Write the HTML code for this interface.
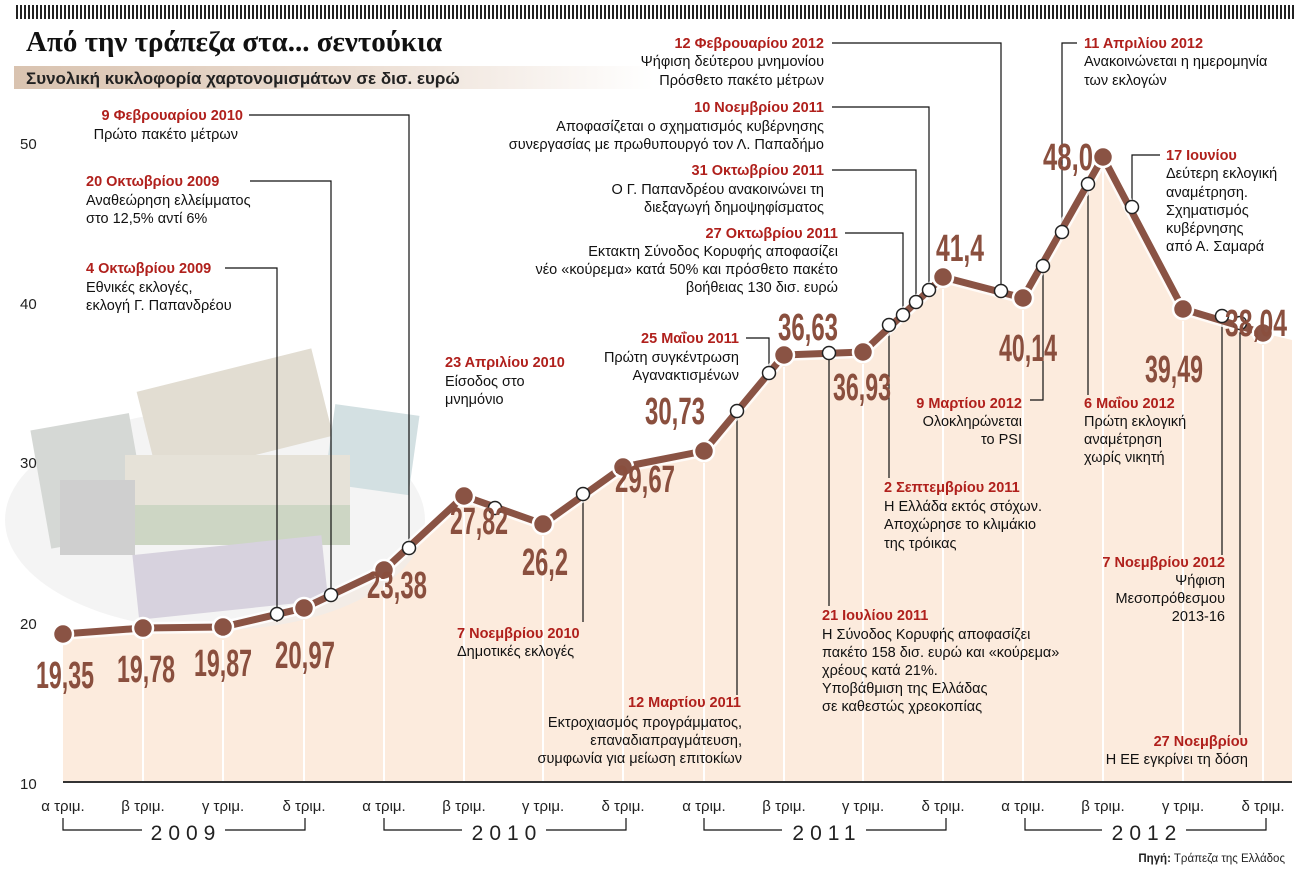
<!DOCTYPE html>
<html><head><meta charset="utf-8"><style>
html,body{margin:0;padding:0;background:#fff;}
svg{display:block;font-family:"Liberation Sans","DejaVu Sans",sans-serif;}
.r{fill:#b0201c;font-weight:bold;font-size:14.5px;}
.b{fill:#111;font-size:14.5px;}
.v{fill:#8a4f3e;font-family:"Liberation Sans",sans-serif;font-weight:bold;font-size:38px;}
.ax{fill:#222;font-size:15px;}
.ln{stroke:#111;stroke-width:1.2;fill:none;}
</style></head><body>
<svg width="1305" height="885" viewBox="0 0 1305 885">
<defs>
<pattern id="hatch" width="4" height="14" patternUnits="userSpaceOnUse"><rect x="0" y="0" width="2" height="14" fill="#222"/></pattern>
<linearGradient id="sub" x1="0" x2="1"><stop offset="0" stop-color="#d9c3b0"/><stop offset="0.5" stop-color="#eadbcf"/><stop offset="1" stop-color="#fff"/></linearGradient>
</defs>
<rect x="14" y="5" width="1280" height="14" fill="url(#hatch)"/>
<text x="26" y="51" font-family="'Liberation Serif',serif" font-weight="bold" font-size="29" fill="#111">Από την τράπεζα στα... σεντούκια</text>
<rect x="14" y="66" width="640" height="23" fill="url(#sub)"/>
<text x="26" y="84" font-size="17" font-weight="bold" fill="#222">Συνολική κυκλοφορία χαρτονομισμάτων σε δισ. ευρώ</text>

<!-- area fill -->
<polygon fill="#fcebdd" points="63,634 143,628 223,627 304,608 384,570 464,496 543,524 623,467 704,451 784,355 863,352 943,277 1023,298 1103,157 1183,309 1263,333 1292,340 1292,782 63,782"/>
<g stroke="#fff" stroke-width="2">
<line x1="143" y1="640" x2="143" y2="782"/><line x1="223" y1="640" x2="223" y2="782"/><line x1="304" y1="620" x2="304" y2="782"/><line x1="384" y1="582" x2="384" y2="782"/><line x1="464" y1="508" x2="464" y2="782"/><line x1="543" y1="536" x2="543" y2="782"/><line x1="623" y1="479" x2="623" y2="782"/><line x1="704" y1="463" x2="704" y2="782"/><line x1="784" y1="367" x2="784" y2="782"/><line x1="863" y1="364" x2="863" y2="782"/><line x1="943" y1="289" x2="943" y2="782"/><line x1="1023" y1="310" x2="1023" y2="782"/><line x1="1103" y1="169" x2="1103" y2="782"/><line x1="1183" y1="321" x2="1183" y2="782"/><line x1="1263" y1="345" x2="1263" y2="782"/>
</g>

<!-- money stack approximation -->
<g>
<ellipse cx="215" cy="520" rx="210" ry="110" fill="#ececec" opacity="0.6"/>
<rect x="40" y="420" width="100" height="120" fill="#d5d8d5" transform="rotate(-10 95 480)"/>
<rect x="145" y="370" width="180" height="90" fill="#e2ddd2" transform="rotate(-14 230 415)"/>
<rect x="330" y="410" width="85" height="80" fill="#d3e0e2" transform="rotate(8 375 445)"/>
<rect x="125" y="455" width="225" height="50" fill="#e6e2d8"/>
<rect x="125" y="505" width="225" height="40" fill="#cdd6c4"/>
<rect x="135" y="545" width="190" height="65" fill="#d7d2de" transform="rotate(-6 230 575)"/>
<rect x="60" y="480" width="75" height="75" fill="#cfcfcf"/>
</g>

<!-- axis -->
<line x1="63" y1="782" x2="1292" y2="782" stroke="#333" stroke-width="2"/>
<g class="ax">
<text x="20" y="149">50</text><text x="20" y="309">40</text><text x="20" y="468">30</text><text x="20" y="629">20</text><text x="20" y="789">10</text>
</g>
<g class="ax" text-anchor="middle" font-size="14">
<text x="63" y="811">α τριμ.</text><text x="143" y="811">β τριμ.</text><text x="223" y="811">γ τριμ.</text><text x="304" y="811">δ τριμ.</text>
<text x="384" y="811">α τριμ.</text><text x="464" y="811">β τριμ.</text><text x="543" y="811">γ τριμ.</text><text x="623" y="811">δ τριμ.</text>
<text x="704" y="811">α τριμ.</text><text x="784" y="811">β τριμ.</text><text x="863" y="811">γ τριμ.</text><text x="943" y="811">δ τριμ.</text>
<text x="1023" y="811">α τριμ.</text><text x="1103" y="811">β τριμ.</text><text x="1183" y="811">γ τριμ.</text><text x="1263" y="811">δ τριμ.</text>
</g>
<g class="ln">
<polyline points="63,818 63,830 142,830"/><polyline points="225,830 305,830 305,818"/>
<polyline points="384,818 384,830 462,830"/><polyline points="546,830 626,830 626,818"/>
<polyline points="704,818 704,830 782,830"/><polyline points="866,830 946,830 946,818"/>
<polyline points="1025,818 1025,830 1102,830"/><polyline points="1186,830 1266,830 1266,818"/>
</g>
<g font-size="21" fill="#222" text-anchor="middle" letter-spacing="6">
<text x="186" y="840">2009</text><text x="507" y="840">2010</text><text x="827" y="840">2011</text><text x="1147" y="840">2012</text>
</g>
<text x="1285" y="862" text-anchor="end" font-size="11.5" fill="#222"><tspan font-weight="bold">Πηγή:</tspan> Τράπεζα της Ελλάδος</text>

<!-- leader lines -->
<g class="ln">
<polyline points="249,115 409,115 409,548"/>
<polyline points="250,181 331,181 331,595"/>
<polyline points="225,268 277,268 277,622"/>
<line x1="583" y1="494" x2="583" y2="622"/>
<line x1="737" y1="411" x2="737" y2="695"/>
<polyline points="746,338 769,338 769,373"/>
<line x1="829" y1="353" x2="829" y2="606"/>
<line x1="889" y1="325" x2="889" y2="478"/>
<polyline points="845,233 903,233 903,315"/>
<polyline points="832,170 916,170 916,302"/>
<polyline points="832,107 929,107 929,290"/>
<polyline points="832,43 1001,43 1001,291"/>
<polyline points="1030,400 1043,400 1043,266"/>
<polyline points="1077,43 1062,43 1062,232"/>
<line x1="1088" y1="184" x2="1088" y2="395"/>
<polyline points="1132,207 1132,155 1160,155"/>
<line x1="1222" y1="316" x2="1222" y2="555"/>
<line x1="1240" y1="323" x2="1240" y2="735"/>
</g>

<!-- main line -->
<polyline fill="none" stroke="#fff" stroke-width="12" stroke-linejoin="round" points="63,634 143,628 223,627 304,608 384,570 464,496 543,524 623,467 704,451 784,355 863,352 943,277 1023,298 1103,157 1183,309 1263,333" opacity="0.8"/>
<polyline fill="none" stroke="#8a5344" stroke-width="7" stroke-linejoin="round" points="63,634 143,628 223,627 304,608 384,570 464,496 543,524 623,467 704,451 784,355 863,352 943,277 1023,298 1103,157 1183,309 1263,333"/>
<g fill="#8a5344" stroke="#fff" stroke-width="2.5">
<circle cx="63" cy="634" r="10"/><circle cx="143" cy="628" r="10"/><circle cx="223" cy="627" r="10"/><circle cx="304" cy="608" r="10"/><circle cx="384" cy="570" r="10"/><circle cx="464" cy="496" r="10"/><circle cx="543" cy="524" r="10"/><circle cx="623" cy="467" r="10"/><circle cx="704" cy="451" r="10"/><circle cx="784" cy="355" r="10"/><circle cx="863" cy="352" r="10"/><circle cx="943" cy="277" r="10"/><circle cx="1023" cy="298" r="10"/><circle cx="1103" cy="157" r="10"/><circle cx="1183" cy="309" r="10"/><circle cx="1263" cy="333" r="10"/>
</g>
<g fill="#fff" stroke="#222" stroke-width="1.5">
<circle cx="277" cy="614" r="6.5"/><circle cx="331" cy="595" r="6.5"/><circle cx="409" cy="548" r="6.5"/><circle cx="495" cy="508" r="6.5"/><circle cx="583" cy="494" r="6.5"/><circle cx="737" cy="411" r="6.5"/><circle cx="769" cy="373" r="6.5"/><circle cx="829" cy="353" r="6.5"/><circle cx="889" cy="325" r="6.5"/><circle cx="903" cy="315" r="6.5"/><circle cx="916" cy="302" r="6.5"/><circle cx="929" cy="290" r="6.5"/><circle cx="1001" cy="291" r="6.5"/><circle cx="1043" cy="266" r="6.5"/><circle cx="1062" cy="232" r="6.5"/><circle cx="1088" cy="184" r="6.5"/><circle cx="1132" cy="207" r="6.5"/><circle cx="1222" cy="316" r="6.5"/><circle cx="1240" cy="323" r="6.5"/>
</g>

<!-- value labels -->
<g class="v" text-anchor="middle" lengthAdjust="spacingAndGlyphs">
<text x="65" y="688" textLength="58" lengthAdjust="spacingAndGlyphs">19,35</text>
<text x="146" y="682" textLength="58" lengthAdjust="spacingAndGlyphs">19,78</text>
<text x="223" y="676" textLength="58" lengthAdjust="spacingAndGlyphs">19,87</text>
<text x="305" y="668" textLength="60" lengthAdjust="spacingAndGlyphs">20,97</text>
<text x="397" y="598" textLength="60" lengthAdjust="spacingAndGlyphs">23,38</text>
<text x="479" y="534" textLength="58" lengthAdjust="spacingAndGlyphs">27,82</text>
<text x="545" y="575" textLength="46" lengthAdjust="spacingAndGlyphs">26,2</text>
<text x="645" y="492" textLength="60" lengthAdjust="spacingAndGlyphs">29,67</text>
<text x="675" y="424" textLength="60" lengthAdjust="spacingAndGlyphs">30,73</text>
<text x="808" y="340" textLength="60" lengthAdjust="spacingAndGlyphs">36,63</text>
<text x="862" y="400" textLength="58" lengthAdjust="spacingAndGlyphs">36,93</text>
<text x="960" y="261" textLength="48" lengthAdjust="spacingAndGlyphs">41,4</text>
<text x="1028" y="361" textLength="58" lengthAdjust="spacingAndGlyphs">40,14</text>
<text x="1068" y="170" textLength="50" lengthAdjust="spacingAndGlyphs">48,0</text>
<text x="1174" y="382" textLength="58" lengthAdjust="spacingAndGlyphs">39,49</text>
<text x="1256" y="336" textLength="62" lengthAdjust="spacingAndGlyphs">38,04</text>
</g>

<!-- annotations -->
<g text-anchor="end">
<text class="r" x="243" y="120">9 Φεβρουαρίου 2010</text><text class="b" x="238" y="139">Πρώτο πακέτο μέτρων</text>
<text class="r" x="741" y="707">12 Μαρτίου 2011</text><text class="b" x="742" y="727">Εκτροχιασμός προγράμματος,</text><text class="b" x="742" y="745">επαναδιαπραγμάτευση,</text><text class="b" x="742" y="763">συμφωνία για μείωση επιτοκίων</text>
<text class="r" x="739" y="343">25 Μαΐου 2011</text><text class="b" x="739" y="362">Πρώτη συγκέντρωση</text><text class="b" x="739" y="380">Αγανακτισμένων</text>
<text class="r" x="838" y="238">27 Οκτωβρίου 2011</text><text class="b" x="838" y="256">Εκτακτη Σύνοδος Κορυφής αποφασίζει</text><text class="b" x="838" y="274">νέο «κούρεμα» κατά 50% και πρόσθετο πακέτο</text><text class="b" x="838" y="292">βοήθειας 130 δισ. ευρώ</text>
<text class="r" x="824" y="175">31 Οκτωβρίου 2011</text><text class="b" x="824" y="194">Ο Γ. Παπανδρέου ανακοινώνει τη</text><text class="b" x="824" y="212">διεξαγωγή δημοψηφίσματος</text>
<text class="r" x="824" y="112">10 Νοεμβρίου 2011</text><text class="b" x="824" y="131">Αποφασίζεται ο σχηματισμός κυβέρνησης</text><text class="b" x="824" y="149">συνεργασίας με πρωθυπουργό τον Λ. Παπαδήμο</text>
<text class="r" x="824" y="48">12 Φεβρουαρίου 2012</text><text class="b" x="824" y="66">Ψήφιση δεύτερου μνημονίου</text><text class="b" x="824" y="85">Πρόσθετο πακέτο μέτρων</text>
<text class="r" x="1022" y="408">9 Μαρτίου 2012</text><text class="b" x="1022" y="426">Ολοκληρώνεται</text><text class="b" x="1022" y="444">το PSI</text>
<text class="r" x="1225" y="567">7 Νοεμβρίου 2012</text><text class="b" x="1225" y="585">Ψήφιση</text><text class="b" x="1225" y="603">Μεσοπρόθεσμου</text><text class="b" x="1225" y="621">2013-16</text>
<text class="r" x="1248" y="746">27 Νοεμβρίου</text><text class="b" x="1248" y="764">Η ΕΕ εγκρίνει τη δόση</text>
</g>
<g>
<text class="r" x="86" y="186">20 Οκτωβρίου 2009</text><text class="b" x="86" y="205">Αναθεώρηση ελλείμματος</text><text class="b" x="86" y="223">στο 12,5% αντί 6%</text>
<text class="r" x="86" y="273">4 Οκτωβρίου 2009</text><text class="b" x="86" y="292">Εθνικές εκλογές,</text><text class="b" x="86" y="310">εκλογή Γ. Παπανδρέου</text>
<text class="r" x="445" y="367">23 Απριλίου 2010</text><text class="b" x="445" y="386">Είσοδος στο</text><text class="b" x="445" y="404">μνημόνιο</text>
<text class="r" x="457" y="638">7 Νοεμβρίου 2010</text><text class="b" x="457" y="656">Δημοτικές εκλογές</text>
<text class="r" x="822" y="620">21 Ιουλίου 2011</text><text class="b" x="822" y="639">Η Σύνοδος Κορυφής αποφασίζει</text><text class="b" x="822" y="657">πακέτο 158 δισ. ευρώ και «κούρεμα»</text><text class="b" x="822" y="675">χρέους κατά 21%.</text><text class="b" x="822" y="693">Υποβάθμιση της Ελλάδας</text><text class="b" x="822" y="711">σε καθεστώς χρεοκοπίας</text>
<text class="r" x="884" y="492">2 Σεπτεμβρίου 2011</text><text class="b" x="884" y="511">Η Ελλάδα εκτός στόχων.</text><text class="b" x="884" y="529">Αποχώρησε το κλιμάκιο</text><text class="b" x="884" y="548">της τρόικας</text>
<text class="r" x="1084" y="48">11 Απριλίου 2012</text><text class="b" x="1084" y="66">Ανακοινώνεται η ημερομηνία</text><text class="b" x="1084" y="85">των εκλογών</text>
<text class="r" x="1084" y="408">6 Μαΐου 2012</text><text class="b" x="1084" y="426">Πρώτη εκλογική</text><text class="b" x="1084" y="444">αναμέτρηση</text><text class="b" x="1084" y="462">χωρίς νικητή</text>
<text class="r" x="1166" y="160">17 Ιουνίου</text><text class="b" x="1166" y="178">Δεύτερη εκλογική</text><text class="b" x="1166" y="197">αναμέτρηση.</text><text class="b" x="1166" y="215">Σχηματισμός</text><text class="b" x="1166" y="233">κυβέρνησης</text><text class="b" x="1166" y="251">από Α. Σαμαρά</text>
</g>
</svg>
</body></html>
